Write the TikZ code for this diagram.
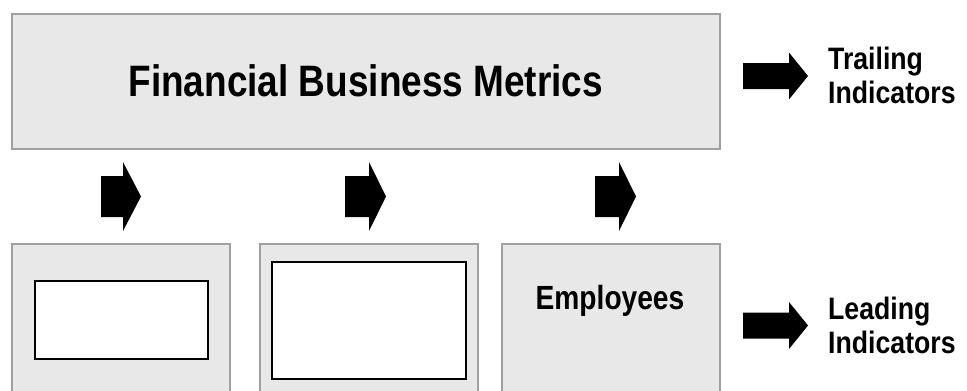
\documentclass[tikz,border=0pt]{standalone}
\usepackage{fontspec}
\newfontfamily\titlefont[FakeStretch=0.84]{Liberation Sans}
\newfontfamily\labelfont[FakeStretch=0.86]{Liberation Sans}
\definecolor{boxfill}{HTML}{E8E8E8}
\definecolor{boxline}{HTML}{A0A0A0}
\tikzset{
  panel/.style={draw=boxline, fill=boxfill, line width=1.5pt, inner sep=0pt, anchor=north west},
  hole/.style={draw=black, fill=white, line width=2.2pt, inner sep=0pt, anchor=north west},
  lbl/.style={font=\labelfont\bfseries\fontsize{31}{34}\selectfont, align=left, inner sep=0pt, anchor=west},
  pics/blockarr/.style args={#1/#2/#3/#4}{code={
    \fill[black] (0,-#3/2) -- (#1,-#3/2) -- (#1,-#4/2) -- (#1+#2,0) -- (#1,#4/2) -- (#1,#3/2) -- (0,#3/2) -- cycle;}}
}
\begin{document}
\begin{tikzpicture}[x=1pt,y=-1pt]
\clip (0,0) rectangle (967,391);
\fill[white] (0,0) rectangle (967,391);
% top panel
\node[panel, minimum width=708, minimum height=135,
  font=\titlefont\bfseries\fontsize{44}{48}\selectfont] (fin) at (11,13) {Financial Business Metrics};
% bottom panels
\node[panel, minimum width=218, minimum height=160] (p1) at (11,243) {};
\node[panel, minimum width=218, minimum height=160] (p2) at (259,243) {};
\node[panel, minimum width=218, minimum height=160] (p3) at (501,243) {};
\node[hole, minimum width=173, minimum height=78] (h1) at (34,280) {};
\node[hole, minimum width=194, minimum height=117] (h2) at (271,261) {};
\node[font=\titlefont\bfseries\fontsize{33.5}{38}\selectfont, inner sep=0pt, anchor=base] (emp) at (610,309) {Employees};
% arrows
\pic at (101,196.5) {blockarr=22/18/41/69};
\pic at (345,196.5) {blockarr=24/17/41/69};
\pic at (595,196.5) {blockarr=24/17/41/69};
\pic at (743,76) {blockarr=46/19/26/47};
\pic at (743,325.5) {blockarr=46/19/26/47};
% labels
\node[lbl] (trail) at (828,75) {Trailing\\Indicators};
\node[lbl] (lead) at (828,325) {Leading\\Indicators};
\end{tikzpicture}
\end{document}
